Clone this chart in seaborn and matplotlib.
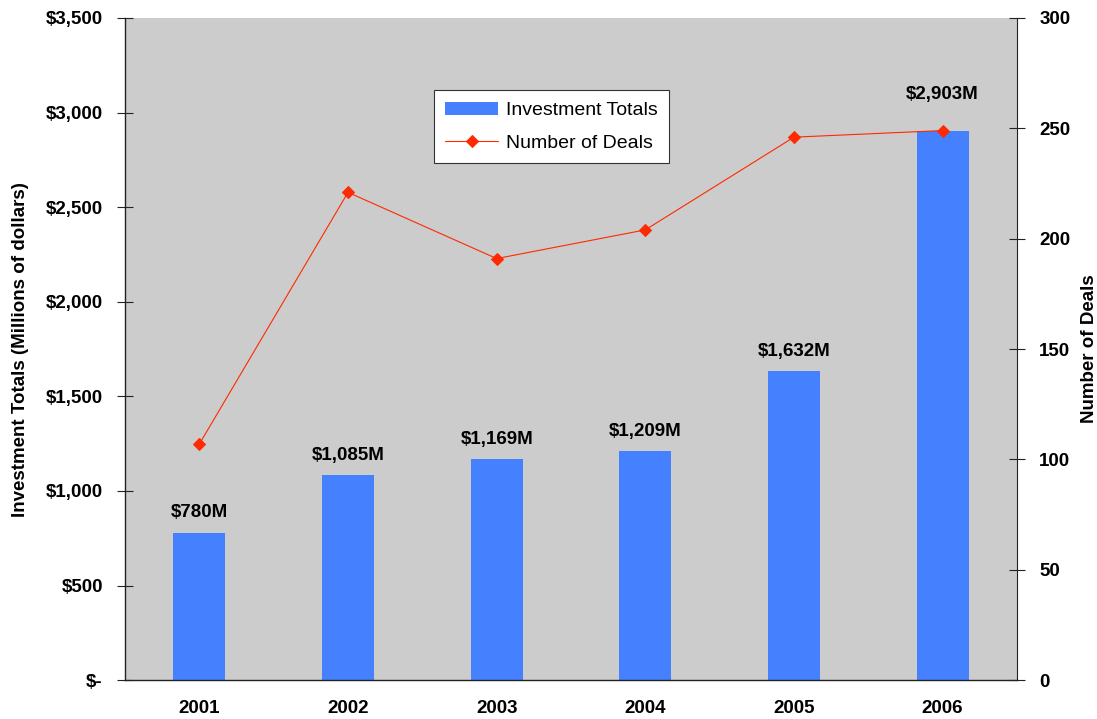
import matplotlib
matplotlib.use('Agg')
import matplotlib.pyplot as plt
import seaborn as sns
import pandas as pd
import numpy as np
from matplotlib.ticker import FuncFormatter

years = ['2001', '2002', '2003', '2004', '2005', '2006']
investment = [780, 1085, 1169, 1209, 1632, 2903]
deals = [107, 221, 191, 204, 246, 249]
bar_labels = ['$780M', '$1,085M', '$1,169M', '$1,209M', '$1,632M', '$2,903M']

sns.set_style('white')
plt.rcParams['font.family'] = ['Liberation Sans', 'DejaVu Sans']
plt.rcParams['text.color'] = 'black'
plt.rcParams['xtick.color'] = 'black'
plt.rcParams['ytick.color'] = 'black'
plt.rcParams['axes.labelcolor'] = 'black'

df = pd.DataFrame({'year': years, 'investment': investment, 'deals': deals})

fig = plt.figure(figsize=(10.97, 7.19), dpi=100)
ax = fig.add_axes([0.114, 0.054, 0.813, 0.921])
ax.set_facecolor('#CCCCCC')

sns.barplot(data=df, x='year', y='investment', color='#4580FF', width=0.35,
            saturation=1, ax=ax, label='Investment Totals', edgecolor='none', linewidth=0)

ax.set_ylim(0, 3500)
ax.set_xlim(-0.5, 5.5)
ax.set_yticks(np.arange(0, 3501, 500))
ax.yaxis.set_major_formatter(FuncFormatter(lambda v, p: '$-' if v == 0 else f'${v:,.0f}'))
ax.set_xticks(range(len(years)))
ax.set_xticklabels(years)
ax.set_xticks(np.arange(-0.5, 6, 1), minor=True)
ax.tick_params(axis='x', which='major', length=0, pad=14, labelsize=13.5)
ax.tick_params(axis='x', which='minor', direction='inout', length=14, color='#333333')
ax.tick_params(axis='y', direction='inout', length=12, labelsize=13.5, pad=10, color='#222222')
for lbl in ax.get_xticklabels() + ax.get_yticklabels():
    lbl.set_fontweight('bold')
ax.set_xlabel('')
ax.set_ylabel('Investment Totals (Millions of dollars)', fontsize=13.5, fontweight='bold', labelpad=12)

for s in ['left', 'bottom']:
    ax.spines[s].set_color('#222222')
    ax.spines[s].set_linewidth(1.0)
ax.spines['top'].set_visible(False)
ax.spines['right'].set_visible(False)

for i, (v, t) in enumerate(zip(investment, bar_labels)):
    off = 20 if i == 5 else 8
    ax.annotate(t, (i, v), xytext=(0, off), textcoords='offset points',
                ha='center', va='bottom', fontsize=13.5, fontweight='bold')

ax2 = ax.twinx()
sns.lineplot(data=df, x='year', y='deals', ax=ax2, color='#FF2A00', linewidth=0.8,
             marker='D', markersize=6, markeredgecolor='#FF2A00', label='Number of Deals')
ax2.set_ylim(0, 300)
ax2.set_yticks(np.arange(0, 301, 50))
ax2.tick_params(axis='y', direction='inout', length=12, labelsize=13.5, pad=10, color='#222222')
for lbl in ax2.get_yticklabels():
    lbl.set_fontweight('bold')
ax2.set_ylabel('Number of Deals', fontsize=13.5, fontweight='bold', labelpad=8)
ax2.set_xlabel('')
ax2.spines['top'].set_visible(False)
ax2.spines['left'].set_visible(False)
ax2.spines['bottom'].set_visible(False)
ax2.spines['right'].set_color('#222222')

h1, l1 = ax.get_legend_handles_labels()
h2, l2 = ax2.get_legend_handles_labels()
if ax2.get_legend():
    ax2.get_legend().remove()
if ax.get_legend():
    ax.get_legend().remove()
leg = ax2.legend(h1 + h2, l1 + l2, loc='upper left', bbox_to_anchor=(0.346, 0.891),
                 borderaxespad=0, fontsize=14, frameon=True, fancybox=False, framealpha=1,
                 edgecolor='#333333', borderpad=0.6, labelspacing=0.75, handlelength=2.7,
                 handletextpad=0.4)
leg.get_frame().set_linewidth(0.8)

fig.savefig('out.png', dpi=100)
